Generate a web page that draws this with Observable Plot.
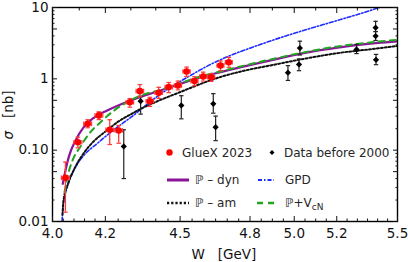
<!DOCTYPE html>
<html><head><meta charset="utf-8">
<script src="https://cdn.jsdelivr.net/npm/d3@7"></script>
<script src="https://cdn.jsdelivr.net/npm/@observablehq/plot@0.6"></script>
<style>body{margin:0;background:#fff}</style>
</head><body><div id="chart"></div>
<script>
// ---------- data ----------
const gluexW     = [4.048,4.095,4.132,4.175,4.217,4.252,4.296,4.336,4.376,4.412,4.453,4.491,4.527,4.560,4.597,4.631,4.671,4.707];
const gluexSigma = [0.041,0.129,0.234,0.307,0.193,0.189,0.470,0.672,0.486,0.638,0.766,0.808,1.27,0.93,1.08,1.05,1.54,1.71];
const gluexLo    = [0.0135,0.108,0.206,0.268,0.120,0.125,0.400,0.560,0.410,0.530,0.640,0.700,1.08,0.80,0.93,0.92,1.30,1.45];
const gluexHi    = [0.068,0.152,0.267,0.345,0.267,0.222,0.530,0.830,0.550,0.760,0.890,0.930,1.46,1.07,1.24,1.18,1.78,2.00];
const gluexHalfBin = 0.015;

const oldW     = [4.272,4.339,4.505,4.640,4.650,4.971,5.022,5.026,5.296,5.390,5.390,5.392];
const oldSigma = [0.113,0.486,0.424,0.447,0.210,1.22,1.59,2.70,2.58,5.21,3.97,1.85];
const oldLo    = [0.040,0.320,0.275,0.330,0.136,0.95,1.30,2.16,2.26,4.60,3.45,1.58];
const oldHi    = [0.193,0.570,0.580,0.620,0.300,1.53,1.90,3.37,3.05,6.40,4.60,2.20];

const dynW     = [4.0382,4.0482,4.0604,4.0859,4.1171,4.1554,4.2072,4.2592,4.3101,4.3386,4.4194,4.5019,4.5858,4.6712,4.892,5.0432,5.2041,5.3651,5.5];
const dynSigma = [0.0338,0.0519,0.0798,0.1368,0.2102,0.2847,0.3603,0.4375,0.5143,0.5574,0.6877,0.8538,1.056,1.2417,1.812,2.293,2.731,3.107,3.35];

const amW      = [4.037,4.0408,4.0595,4.0859,4.1161,4.1543,4.2006,4.2514,4.2986,4.3386,4.4194,4.5019,4.5858,4.6712,4.7803,4.892,5.0432,5.2041,5.3651,5.5];
const amSigma  = [0.0125,0.0197,0.0352,0.059,0.0899,0.1324,0.183,0.2527,0.3168,0.378,0.506,0.655,0.848,1.063,1.312,1.542,1.901,2.293,2.60,2.89];

const gpdW     = [4.0352,4.0408,4.0546,4.0794,4.1173,4.1686,4.2200,4.2722,4.3254,4.3788,4.4605,4.5436,4.6283,4.7145,4.8024,4.892,5.0433,5.2041,5.3652,5.44];
const gpdSigma = [0.0100,0.0179,0.030,0.0519,0.0843,0.1241,0.177,0.2446,0.338,0.482,0.7575,1.116,1.592,2.129,2.713,3.401,4.773,6.594,9.107,10.7];

const vcnW     = [4.0446,4.0558,4.0746,4.1048,4.1352,4.1813,4.2318,4.2868,4.3306,4.4194,4.5019,4.5858,4.6712,4.892,5.2041,5.5];
const vcnSigma = [0.0255,0.0428,0.0717,0.1127,0.166,0.247,0.3547,0.4743,0.5665,0.6988,0.87,1.081,1.27,1.871,2.847,3.512];

const xMajor = [4.0,4.2,4.5,4.8,5.0,5.2,5.5];
const xMajorLabels = ["4.0","4.2","4.5","4.8","5.0","5.2","5.5"];
const xMinorBottom = [4.04,4.08,4.12,4.16,4.25,4.3,4.35,4.4,4.45,4.55,4.6,4.65,4.7,4.75,4.85,4.9,4.95,5.05,5.1,5.15,5.25,5.3,5.35,5.4,5.45];
const xMinorTop = [4.1,4.3,4.4,4.6,4.7,4.9,5.1,5.3,5.4];
const yMajor = [0.01,0.05,0.1,0.5,1,5,10];
const yMajorLabels = ["0.01","0.05","0.10","0.50","1","5","10"];
const yMinor = [0.02,0.03,0.04,0.06,0.07,0.08,0.09,0.2,0.3,0.4,0.6,0.7,0.8,0.9,2,3,4,6,7,8,9];

const seriesNames = ["GlueX 2023","Data before 2000","\u2119 \u2013 dyn","GPD","\u2119 \u2013 am"];
const xTitle = "W   [GeV]";
const yTitleSym = "\u03c3", yTitleUnit = "   [nb]";

// ---------- tables ----------
const gluex = gluexW.map((w,i)=>({W:w, s:gluexSigma[i], lo:gluexLo[i], hi:gluexHi[i], w1:w-gluexHalfBin, w2:w+gluexHalfBin}));
const old = oldW.map((w,i)=>({W:w, s:oldSigma[i], lo:oldLo[i], hi:oldHi[i]}));
const toRows = (ws, ss) => ws.map((w,i)=>({W:w, s:ss[i]}));

// ---------- style ----------
const FONT = "'DejaVu Sans', 'Liberation Sans', sans-serif";
const RED = "#ff0000", RED_BAR = "#ff3a3a";
const PURPLE = "#8a1497", BLUE = "#1f2cff", GREEN = "#22a622", BLACK = "#111";
const hcap = {draw(ctx, size){const r=Math.sqrt(size/Math.PI); ctx.moveTo(-r,0); ctx.lineTo(r,0);}};
const vcap = {draw(ctx, size){const r=Math.sqrt(size/Math.PI); ctx.moveTo(0,-r); ctx.lineTo(0,r);}};
const lab = (vals, labels) => d => labels[vals.findIndex(v => Math.abs(v-d) < 1e-9)];
const none = () => "";

const chart = Plot.plot({
  width: 408, height: 262,
  marginLeft: 52, marginRight: 11, marginTop: 7, marginBottom: 41,
  x: {type: "log", domain: [4, 5.5], label: null},
  y: {type: "log", domain: [0.01, 10], label: null},
  style: {fontFamily: FONT, fontSize: "13.5px", color: "#111", background: "#fff", overflow: "visible"},
  marks: [
    Plot.line(toRows(gpdW, gpdSigma), {x:"W", y:"s", stroke: BLUE, strokeWidth: 1.6, strokeDasharray: "4,2,1.3,2", curve: "monotone-x", clip: true}),
    Plot.line(toRows(amW, amSigma), {x:"W", y:"s", stroke: BLACK, strokeWidth: 2, strokeDasharray: "2,2", curve: "monotone-x", clip: true}),
    Plot.line(toRows(dynW, dynSigma), {x:"W", y:"s", stroke: PURPLE, strokeWidth: 2.2, curve: "monotone-x", clip: true}),
    Plot.line(toRows(vcnW, vcnSigma), {x:"W", y:"s", stroke: GREEN, strokeWidth: 2, strokeDasharray: "6,5", curve: "monotone-x", clip: true}),
    // old data
    Plot.ruleX(old, {x:"W", y1:"lo", y2:"hi", stroke:"#222", strokeWidth:1.2}),
    Plot.dot(old, {x:"W", y:"lo", symbol:hcap, r:2.2, stroke:"#222", strokeWidth:1.2}),
    Plot.dot(old, {x:"W", y:"hi", symbol:hcap, r:2.2, stroke:"#222", strokeWidth:1.2}),
    Plot.dot(old, {x:"W", y:"s", symbol:"diamond2", r:2.8, fill:"#000", stroke:"none"}),
    // GlueX
    Plot.ruleX(gluex, {x:"W", y1:"lo", y2:"hi", stroke:RED_BAR, strokeWidth:1.3}),
    Plot.ruleY(gluex, {y:"s", x1:"w1", x2:"w2", stroke:RED_BAR, strokeWidth:1.3}),
    Plot.dot(gluex, {x:"W", y:"lo", symbol:hcap, r:2.3, stroke:RED_BAR, strokeWidth:1.2}),
    Plot.dot(gluex, {x:"W", y:"hi", symbol:hcap, r:2.3, stroke:RED_BAR, strokeWidth:1.2}),
    Plot.dot(gluex, {x:"w1", y:"s", symbol:vcap, r:2.3, stroke:RED_BAR, strokeWidth:1.2}),
    Plot.dot(gluex, {x:"w2", y:"s", symbol:vcap, r:2.3, stroke:RED_BAR, strokeWidth:1.2}),
    Plot.dot(gluex, {x:"W", y:"s", r:3.3, fill:RED, stroke:"none"}),
    // frame & ticks (inward)
    Plot.frame({stroke:"#000", strokeWidth:1.4}),
    Plot.axisX({anchor:"bottom", ticks:xMinorBottom, tickSize:-2.5, tickFormat:none, label:null}),
    Plot.axisX({anchor:"bottom", ticks:xMajor, tickSize:-5, tickFormat:none, label:null}),
    Plot.axisX({anchor:"bottom", ticks:xMajor, tickSize:0, tickPadding:7, tickFormat:lab(xMajor, xMajorLabels), label:null, fontSize:13.5, fill:"#111"}),
    Plot.axisX({anchor:"top", ticks:xMinorTop, tickSize:-2.5, tickFormat:none, label:null}),
    Plot.axisX({anchor:"top", ticks:xMajor, tickSize:-5, tickFormat:none, label:null}),
    Plot.axisY({anchor:"left", ticks:yMinor, tickSize:-2.5, tickFormat:none, label:null}),
    Plot.axisY({anchor:"left", ticks:yMajor, tickSize:-5, tickFormat:none, label:null}),
    Plot.axisY({anchor:"left", ticks:yMajor, tickSize:0, tickPadding:4, tickFormat:lab(yMajor, yMajorLabels), label:null, fontSize:13.5, fill:"#111"}),
    Plot.axisY({anchor:"right", ticks:yMinor, tickSize:-2.5, tickFormat:none, label:null}),
    Plot.axisY({anchor:"right", ticks:yMajor, tickSize:-5, tickFormat:none, label:null})
  ]
});
document.getElementById("chart").appendChild(chart);

// ---------- titles & legend (layout) ----------
const svg = d3.select(chart);
svg.append("text").attr("x", 224).attr("y", 259).attr("text-anchor", "middle")
  .attr("font-family", FONT).attr("font-size", 13.5).attr("fill", "#111")
  .style("white-space","pre").text(xTitle);
const yt = svg.append("text").attr("transform", "translate(12.5,115) rotate(-90)").attr("text-anchor", "middle")
  .attr("font-family", FONT).attr("font-size", 13.5).attr("fill", "#111").style("white-space","pre");
yt.append("tspan").attr("font-style","italic").text(yTitleSym);
yt.append("tspan").text(yTitleUnit);

const lg = svg.append("g").attr("font-family", FONT).attr("font-size", 12).attr("fill", "#262626").attr("text-anchor", "start");
const r1 = 152.5, r2 = 180, r3 = 203;
lg.append("circle").attr("cx", 169.5).attr("cy", r1).attr("r", 3.2).attr("fill", RED);
lg.append("text").attr("x", 182).attr("y", r1 + 4.3).text(seriesNames[0]);
lg.append("path").attr("d", d3.symbol(d3.symbolDiamond2, 16)()).attr("transform", `translate(272,${r1})`).attr("fill", "#000");
lg.append("text").attr("x", 284).attr("y", r1 + 4.3).text(seriesNames[1]);
lg.append("line").attr("x1",167).attr("x2",189).attr("y1",r2).attr("y2",r2).attr("stroke",PURPLE).attr("stroke-width",3);
lg.append("text").attr("x", 195).attr("y", r2 + 4.3).text(seriesNames[2]);
lg.append("line").attr("x1",258).attr("x2",274).attr("y1",r2).attr("y2",r2).attr("stroke",BLUE).attr("stroke-width",2.2).attr("stroke-dasharray","4,2,1.5,2");
lg.append("text").attr("x", 285).attr("y", r2 + 4.3).text(seriesNames[3]);
lg.append("line").attr("x1",167).attr("x2",189).attr("y1",r3).attr("y2",r3).attr("stroke",BLACK).attr("stroke-width",2.4).attr("stroke-dasharray","2.2,2");
lg.append("text").attr("x", 195).attr("y", r3 + 4.3).text(seriesNames[4]);
lg.append("line").attr("x1",257).attr("x2",274).attr("y1",r3).attr("y2",r3).attr("stroke",GREEN).attr("stroke-width",2.4).attr("stroke-dasharray","6,5");
const vt = lg.append("text").attr("x", 285).attr("y", r3 + 4.3);
vt.append("tspan").text("\u2119+V");
vt.append("tspan").attr("font-size", 9).attr("dy", 3).text("cN");
</script>
</body></html>
